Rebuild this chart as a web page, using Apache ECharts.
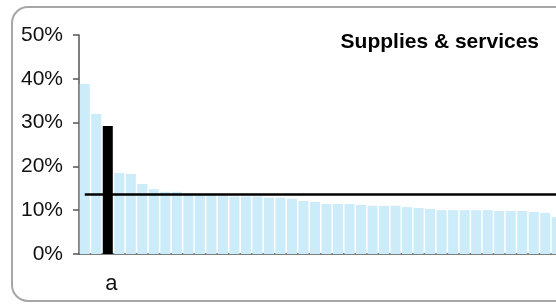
<!DOCTYPE html>
<html>
<head>
<meta charset="utf-8">
<title>Supplies & services</title>
<script src="https://cdn.jsdelivr.net/npm/echarts@6/dist/echarts.min.js"></script>
<style>
  html, body { margin: 0; padding: 0; background: #fff; overflow: hidden; }
  #chart { width: 580px; height: 304px; }
</style>
</head>
<body>
<div id="chart"></div>
<script>
// values in percent, sorted high to low; bar 3 is the highlighted one
var categories = ['', '', 'a', '', '', '', '', '', '', '', '', '', '', '', '', '', '', '', '', '', '',
                  '', '', '', '', '', '', '', '', '', '', '', '', '', '', '', '', '', '', '', '', ''];
var shares = [38.8, 32.0, 29.2, 18.5, 18.3, 16.0, 14.8, 14.2, 14.2, 13.9, 13.5, 13.4, 13.2, 13.1,
              13.1, 13.1, 12.85, 12.85, 12.6, 12.1, 11.9, 11.4, 11.4, 11.4, 11.2, 11.0, 11.0, 11.0,
              10.7, 10.5, 10.3, 10.0, 10.0, 10.0, 10.0, 10.0, 9.8, 9.8, 9.8, 9.6, 9.4, 8.4];
var highlightIndex = 2;
var averageShare = 13.6;
var yTicks = [0, 10, 20, 30, 40, 50];

var chart = echarts.init(document.getElementById('chart'));

var barData = shares.map(function (v, i) {
    if (i === highlightIndex) {
        return { value: v, itemStyle: { color: '#000000' } };
    }
    return v;
});

chart.setOption({
    animation: false,
    graphic: [{
        type: 'rect',
        shape: { x: 12, y: 7, width: 600, height: 294, r: 16 },
        style: { fill: 'none', stroke: '#a6a6a6', lineWidth: 2 },
        z: -1
    }],
    title: {
        text: 'Supplies & services',
        right: 41,
        top: 32,
        padding: 0,
        textStyle: {
            fontFamily: 'Liberation Sans, Arial, sans-serif',
            fontSize: 21,
            fontWeight: 'bold',
            color: '#000'
        }
    },
    grid: { left: 79, right: 17.5, top: 35, bottom: 50 },
    xAxis: {
        type: 'category',
        data: categories,
        axisLine: { lineStyle: { color: '#555', width: 1.5 } },
        axisTick: { show: false },
        axisLabel: {
            interval: 0,
            margin: 19,
            padding: [0, 0, 0, 7],
            fontFamily: 'Liberation Sans, Arial, sans-serif',
            fontSize: 22,
            color: '#111'
        }
    },
    yAxis: {
        type: 'value',
        min: yTicks[0],
        max: yTicks[yTicks.length - 1],
        interval: 10,
        splitLine: { show: false },
        axisLine: { show: true, lineStyle: { color: '#555', width: 1.5 } },
        axisTick: { show: true, length: 6, lineStyle: { color: '#555', width: 1.5 } },
        axisLabel: {
            margin: 16,
            formatter: '{value}%',
            fontFamily: 'Liberation Sans, Arial, sans-serif',
            fontSize: 21,
            color: '#111'
        }
    },
    series: [{
        type: 'bar',
        data: barData,
        barCategoryGap: '13%',
        itemStyle: { color: '#cbecf8' },
        markLine: {
            silent: true,
            symbol: 'none',
            label: { show: false },
            lineStyle: { color: '#000', width: 2.5, type: 'solid' },
            data: [[
                { coord: [0, averageShare] },
                { coord: [categories.length - 1, averageShare] }
            ]]
        }
    }]
});
</script>
</body>
</html>
